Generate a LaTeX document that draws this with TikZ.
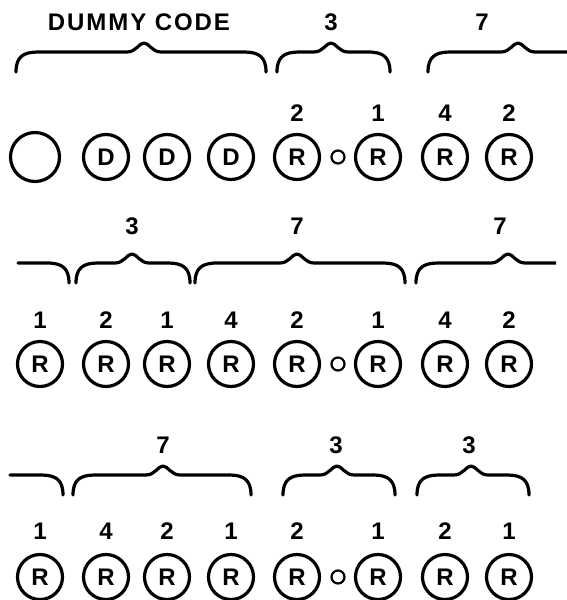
\documentclass[tikz,border=0pt]{standalone}
\usepackage{fontspec}
\setmainfont{Liberation Sans}

% brace over a group: left end, tip, right end, height of the flat part
\newcommand{\codebrace}[4]{%
  \draw[bracket] (#1,#4+20) .. controls (#1,#4+5) and (#1+7,#4) .. (#1+22,#4)
    -- (#2-17,#4) .. controls (#2-8,#4) and (#2-5,#4-9) .. (#2,#4-9)
    .. controls (#2+5,#4-9) and (#2+8,#4) .. (#2+17,#4)
    -- (#3-22,#4) .. controls (#3-7,#4) and (#3,#4+5) .. (#3,#4+20);}

\tikzset{
  bead/.style={draw,circle,line width=3.2pt,minimum size=45pt,inner sep=0pt,
    font=\fontsize{24}{24}\selectfont\bfseries},
  joint/.style={draw,circle,line width=2.2pt,minimum size=13pt,inner sep=0pt},
  weight/.style={font=\fontsize{24}{24}\selectfont\bfseries},
  bracket/.style={line width=3.2pt,line cap=round,line join=round},
}

\begin{document}
\begin{tikzpicture}[x=1pt,y=-1pt]
\clip (0,0) rectangle (567,600);

% first row
\node[weight] (dummy) at (139,22) {\addfontfeature{LetterSpace=8}DUMMY CODE};
\node[weight] (a3l) at (331,22) {3};
\node[weight] (a7l) at (482,22) {7};
\codebrace{16}{144}{266}{52}
\codebrace{277}{331}{390}{52}
\codebrace{428}{518}{608}{52}

\node[weight] (an5) at (297,113) {2};
\node[weight] (an6) at (378,113) {1};
\node[weight] (an7) at (445,113) {4};
\node[weight] (an8) at (509,113) {2};

\node[bead,minimum size=49pt] (a1) at (35,157) {};
\node[bead] (a2) at (106,157) {D};
\node[bead] (a3) at (167,157) {D};
\node[bead] (a4) at (231,157) {D};
\node[bead] (a5) at (297,157) {R};
\node[joint] (ao) at (338,157) {};
\node[bead] (a6) at (378,157) {R};
\node[bead] (a7) at (445,157) {R};
\node[bead] (a8) at (509,157) {R};

% second row
\node[weight] (b3l) at (132,226) {3};
\node[weight] (b7l) at (297,226) {7};
\node[weight] (b7r) at (500,226) {7};
\draw[bracket] (18,263) -- (47,263) .. controls (62,263) and (69,268) .. (69,283);
\codebrace{76}{132}{190}{263}
\codebrace{195}{297}{405}{263}
\begin{scope}
\clip (0,0) rectangle (556,600);
\codebrace{416}{508}{600}{263}
\end{scope}

\node[weight] (bn1) at (40,320) {1};
\node[weight] (bn2) at (106,320) {2};
\node[weight] (bn3) at (167,320) {1};
\node[weight] (bn4) at (231,320) {4};
\node[weight] (bn5) at (297,320) {2};
\node[weight] (bn6) at (378,320) {1};
\node[weight] (bn7) at (445,320) {4};
\node[weight] (bn8) at (509,320) {2};

\node[bead] (b1) at (40,364) {R};
\node[bead] (b2) at (106,364) {R};
\node[bead] (b3) at (167,364) {R};
\node[bead] (b4) at (231,364) {R};
\node[bead] (b5) at (297,364) {R};
\node[joint] (bo) at (338,364) {};
\node[bead] (b6) at (378,364) {R};
\node[bead] (b7) at (445,364) {R};
\node[bead] (b8) at (509,364) {R};

% third row
\node[weight] (c7l) at (163,445) {7};
\node[weight] (c3l) at (336,445) {3};
\node[weight] (c3r) at (469,445) {3};
\draw[bracket] (10,475) -- (41,475) .. controls (56,475) and (63,480) .. (63,495);
\codebrace{73}{163}{251}{475}
\codebrace{283}{337}{395}{475}
\codebrace{417}{471}{529}{475}

\node[weight] (cn1) at (40,531) {1};
\node[weight] (cn2) at (106,531) {4};
\node[weight] (cn3) at (167,531) {2};
\node[weight] (cn4) at (231,531) {1};
\node[weight] (cn5) at (297,531) {2};
\node[weight] (cn6) at (378,531) {1};
\node[weight] (cn7) at (445,531) {2};
\node[weight] (cn8) at (509,531) {1};

\node[bead] (c1) at (40,577) {R};
\node[bead] (c2) at (106,577) {R};
\node[bead] (c3) at (167,577) {R};
\node[bead] (c4) at (231,577) {R};
\node[bead] (c5) at (297,577) {R};
\node[joint] (co) at (338,577) {};
\node[bead] (c6) at (378,577) {R};
\node[bead] (c7) at (445,577) {R};
\node[bead] (c8) at (509,577) {R};
\end{tikzpicture}
\end{document}
